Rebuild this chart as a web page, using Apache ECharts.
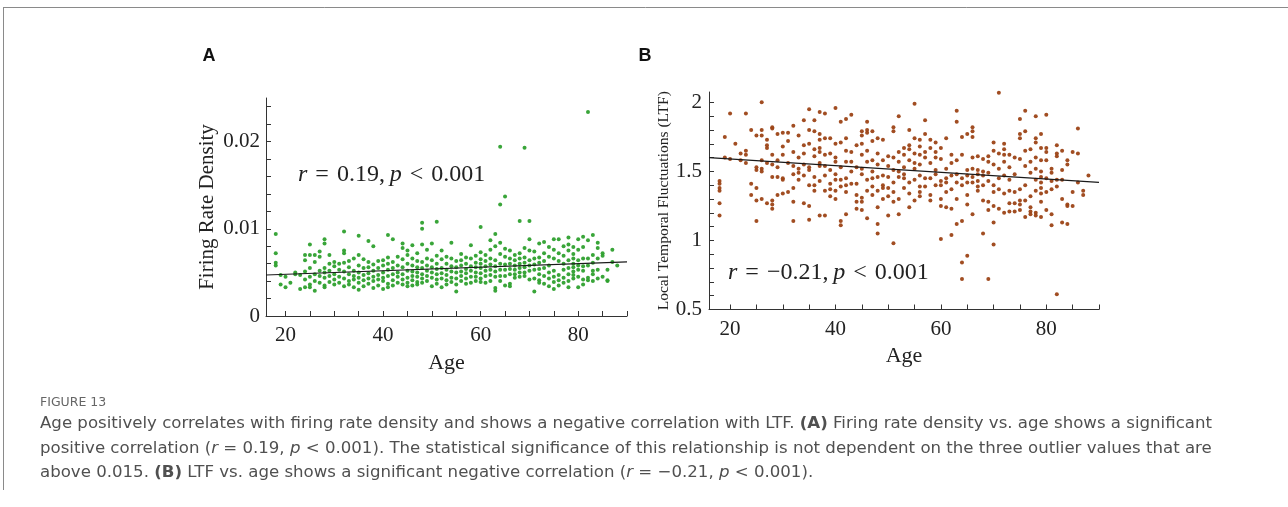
<!DOCTYPE html>
<html><head><meta charset="utf-8">
<script src="https://cdn.jsdelivr.net/npm/echarts@6/dist/echarts.min.js"></script>
<style>html,body{margin:0;padding:0;background:#fff}#c{width:1288px;height:507px}</style>
</head><body><div id="c"></div>
<script>
// ---------- axes ----------
const ageTicks = [20,25,30,35,40,45,50,55,60,65,70,75,80,85,90];
const ageLabels = [20,40,60,80];
const firingTicks = [0,0.002,0.004,0.006,0.008,0.01,0.012,0.014,0.016,0.018,0.02,0.022,0.024];
const firingLabels = [0,0.01,0.02];
const ltfTicks = [0.5,0.6,0.7,0.8,0.9,1,1.1,1.2,1.3,1.4,1.5,1.6,1.7,1.8,1.9,2];
const ltfLabels = [0.5,1,1.5,2];

// ---------- panel A: firing rate density (row = [age, values...]) ----------
const firingRows = [
 [18,0.0094,0.0072,0.0061,0.0058],[19,0.0047,0.0036],[20,0.0045,0.0033],[21,0.0038],
 [22,0.0050,0.0048],[23,0.0047,0.0031],[24,0.0070,0.0064,0.0051,0.0042,0.0033],
 [25,0.0082,0.0070,0.0055,0.0045,0.0036,0.0033],[26,0.0070,0.0062,0.0048,0.0040,0.0029],
 [27,0.0074,0.0068,0.0052,0.0046,0.0038],[28,0.0088,0.0083,0.0055,0.0050,0.0044,0.0035,0.0033],
 [29,0.0070,0.0060,0.0052,0.0046,0.0039],[30,0.0062,0.0057,0.0048,0.0042,0.0036],
 [31,0.0060,0.0053,0.0045,0.0038],[32,0.0097,0.0075,0.0072,0.0061,0.0051,0.0043,0.0034],
 [33,0.0063,0.0056,0.0048,0.0040,0.0036],[34,0.0066,0.0052,0.0046,0.0042,0.0033],
 [35,0.0092,0.0070,0.0058,0.0050,0.0044,0.0038,0.0030],[36,0.0065,0.0055,0.0047,0.0041,0.0034],
 [37,0.0086,0.0062,0.0056,0.0049,0.0043,0.0037],[38,0.0080,0.0059,0.0052,0.0045,0.0040,0.0032],
 [39,0.0063,0.0055,0.0047,0.0042,0.0035],[40,0.0064,0.0058,0.0050,0.0044,0.0040,0.0031],
 [41,0.0093,0.0067,0.0060,0.0053,0.0046,0.0037,0.0033],[42,0.0088,0.0062,0.0055,0.0048,0.0041,0.0035],
 [43,0.0068,0.0058,0.0050,0.0045,0.0038],[44,0.0083,0.0078,0.0065,0.0056,0.0048,0.0042,0.0036],
 [45,0.0075,0.0070,0.0060,0.0052,0.0044,0.0038,0.0034],[46,0.0081,0.0066,0.0058,0.0051,0.0046,0.0041,0.0035],
 [47,0.0072,0.0063,0.0056,0.0050,0.0045,0.0039,0.0036],[48,0.0107,0.0100,0.0082,0.0062,0.0055,0.0048,0.0043,0.0038],
 [49,0.0076,0.0066,0.0058,0.0052,0.0046,0.0040],[50,0.0083,0.0064,0.0056,0.0050,0.0044,0.0034],
 [51,0.0108,0.0069,0.0060,0.0054,0.0048,0.0042,0.0037],[52,0.0075,0.0065,0.0055,0.0049,0.0043,0.0033],
 [53,0.0068,0.0060,0.0053,0.0047,0.0041,0.0036],[54,0.0084,0.0066,0.0057,0.0051,0.0044,0.0039],
 [55,0.0063,0.0056,0.0050,0.0043,0.0036,0.0028],[56,0.0071,0.0064,0.0058,0.0051,0.0046,0.0040],
 [57,0.0067,0.0060,0.0054,0.0049,0.0043,0.0037],[58,0.0081,0.0066,0.0057,0.0052,0.0045,0.0038],
 [59,0.0069,0.0061,0.0056,0.0050,0.0045,0.0040],[60,0.0102,0.0073,0.0065,0.0060,0.0055,0.0049,0.0043,0.0039],
 [61,0.0070,0.0063,0.0057,0.0052,0.0046,0.0038],[62,0.0087,0.0076,0.0066,0.0059,0.0053,0.0047,0.0040],
 [63,0.0094,0.0080,0.0064,0.0057,0.0051,0.0045,0.0032,0.0029],[64,0.0194,0.0128,0.0084,0.0071,0.0060,0.0053,0.0046,0.0040],
 [65,0.0137,0.0077,0.0068,0.0059,0.0053,0.0046,0.0035],[66,0.0075,0.0066,0.0060,0.0054,0.0048,0.0037,0.0034],
 [67,0.0070,0.0064,0.0058,0.0053,0.0048,0.0044],[68,0.0109,0.0072,0.0066,0.0060,0.0055,0.0050,0.0045],
 [69,0.0193,0.0078,0.0067,0.0061,0.0056,0.0050,0.0046],[70,0.0109,0.0088,0.0075,0.0064,0.0058,0.0052,0.0042],
 [71,0.0074,0.0066,0.0059,0.0053,0.0043,0.0028],[72,0.0083,0.0067,0.0061,0.0054,0.0048,0.0041,0.0038],
 [73,0.0085,0.0072,0.0063,0.0055,0.0046,0.0037],[74,0.0079,0.0068,0.0058,0.0050,0.0043,0.0034],
 [75,0.0088,0.0076,0.0066,0.0052,0.0045,0.0039,0.0031],[76,0.0088,0.0072,0.0063,0.0047,0.0041,0.0035],
 [77,0.0080,0.0069,0.0060,0.0053,0.0044,0.0038],[78,0.0090,0.0082,0.0075,0.0064,0.0055,0.0048,0.0040,0.0033],
 [79,0.0079,0.0071,0.0066,0.0060,0.0056,0.0051,0.0047,0.0043],[80,0.0088,0.0076,0.0064,0.0058,0.0053,0.0045,0.0033],
 [81,0.0091,0.0079,0.0066,0.0057,0.0052,0.0042,0.0036],[82,0.0234,0.0087,0.0066,0.0058,0.0044,0.0041],
 [83,0.0093,0.0070,0.0061,0.0052,0.0048,0.0040],[84,0.0084,0.0078,0.0066,0.0053,0.0043],
 [85,0.0072,0.0069,0.0045],[86,0.0053,0.0041,0.0040],[87,0.0076,0.0062],[88,0.0058]
];
const firingTrend = [[16,0.0047],[90,0.0062]];

// ---------- panel B: LTF (row = [age, values...]) ----------
const ltfRows = [
 [18,1.43,1.41,1.38,1.36,1.27,1.18],[19,1.75,1.60],[20,1.92,1.59],[21,1.70],[22,1.63,1.58],
 [23,1.92,1.65,1.62,1.56],[24,1.80,1.41,1.33],[25,1.76,1.53,1.51,1.38,1.29,1.14],
 [26,2.00,1.80,1.76,1.58,1.52,1.50,1.30],[27,1.73,1.69,1.67,1.56,1.27],
 [28,1.82,1.81,1.62,1.55,1.46,1.29,1.26,1.23],[29,1.77,1.58,1.53,1.46,1.33],
 [30,1.78,1.68,1.62,1.45,1.44,1.34],[31,1.78,1.72,1.56,1.35],
 [32,1.83,1.64,1.54,1.48,1.38,1.28,1.14],[33,1.76,1.60,1.52,1.49,1.44],
 [34,1.87,1.69,1.63,1.55,1.47,1.27],[35,1.95,1.80,1.70,1.53,1.51,1.40,1.25,1.15],
 [36,1.87,1.79,1.66,1.61,1.46,1.40,1.36],[37,1.93,1.77,1.73,1.67,1.64,1.56,1.54,1.43,1.18],
 [38,1.92,1.74,1.62,1.54,1.47,1.36,1.18],[39,1.74,1.63,1.51,1.41,1.37,1.32],
 [40,1.96,1.70,1.60,1.57,1.48,1.44,1.36,1.30],[41,1.86,1.71,1.53,1.44,1.39,1.14,1.11],
 [42,1.88,1.74,1.65,1.57,1.45,1.40,1.35,1.19],[43,1.91,1.64,1.57,1.50,1.41],
 [44,1.69,1.53,1.41,1.33,1.28,1.23],[45,1.79,1.76,1.70,1.62,1.52,1.48,1.31,1.28,1.22],
 [46,1.86,1.80,1.78,1.65,1.57,1.44,1.36,1.16],[47,1.79,1.72,1.58,1.50,1.45,1.39,1.33],
 [48,1.74,1.63,1.55,1.46,1.36,1.24,1.12,1.05],[49,1.73,1.58,1.47,1.40,1.38,1.30],
 [50,1.61,1.54,1.46,1.38,1.32,1.18],[51,1.82,1.79,1.60,1.51,1.42,1.35,1.28,0.98],
 [52,1.90,1.64,1.57,1.50,1.46,1.30,1.19],[53,1.67,1.62,1.53,1.48,1.45,1.38],
 [54,1.80,1.69,1.66,1.58,1.42,1.34,1.24],[55,1.99,1.74,1.63,1.56,1.52,1.44,1.29],
 [56,1.73,1.68,1.62,1.55,1.47,1.39,1.35,1.32],[57,1.87,1.77,1.64,1.60,1.45,1.39],
 [58,1.73,1.67,1.56,1.45,1.33,1.29],[59,1.71,1.64,1.60,1.51,1.48,1.40],
 [60,1.67,1.59,1.43,1.40,1.30,1.25,1.01],[61,1.74,1.52,1.45,1.42,1.35,1.24],
 [62,1.62,1.56,1.47,1.37,1.23,1.04],[63,1.94,1.86,1.58,1.48,1.42,1.30,1.12],
 [64,1.75,1.62,1.45,1.40,1.14,0.84,0.72],[65,1.77,1.51,1.47,1.42,1.33,1.26,0.89],
 [66,1.82,1.79,1.75,1.60,1.52,1.46,1.42,1.19],[67,1.61,1.51,1.48,1.43,1.39,1.36],
 [68,1.59,1.50,1.47,1.40,1.29,1.05],[69,1.61,1.57,1.49,1.43,1.28,1.22,0.72],
 [70,1.71,1.65,1.55,1.40,1.35,1.25,1.13,0.97],[71,2.07,1.63,1.52,1.45,1.37,1.23],
 [72,1.70,1.66,1.62,1.57,1.47,1.34,1.20],[73,1.62,1.53,1.44,1.36,1.27,1.21],
 [74,1.60,1.48,1.35,1.27,1.21],[75,1.88,1.77,1.74,1.59,1.37,1.29,1.26,1.22],
 [76,1.94,1.79,1.65,1.54,1.40,1.29,1.17],[77,1.66,1.57,1.49,1.32,1.24,1.21,1.19],
 [78,1.90,1.74,1.71,1.60,1.52,1.44,1.36,1.20,1.18],[79,1.77,1.67,1.58,1.50,1.46,1.42,1.38,1.34,1.28,1.17],
 [80,1.91,1.67,1.64,1.58,1.45,1.35,1.22],[81,1.52,1.49,1.43,1.37,1.19,1.11],
 [82,1.69,1.63,1.61,1.44,1.39,0.61],[83,1.65,1.51,1.44,1.30,1.13],
 [84,1.58,1.55,1.26,1.25,1.12],[85,1.64,1.35,1.25],[86,1.81,1.63,1.42],[87,1.36,1.33],[88,1.47]
];
const ltfTrend = [[16,1.60],[90,1.42]];

function toPoints(rows){ const out=[]; rows.forEach(r=>{ for(let i=1;i<r.length;i++) out.push([r[0],r[i]]); }); return out; }

const SERIF = '"Liberation Serif","DejaVu Serif",serif';
const INK = '#222';
const CAP = '"DejaVu Sans",sans-serif';
const CAPCOL = '#505050';
const SP = '\u2004';

function xAxisCfg(gi){
  return { gridIndex:gi, type:'value', min:16, max:90,
    name:'Age', nameLocation:'middle', nameGap:36,
    nameTextStyle:{fontFamily:SERIF, fontSize:22, color:INK},
    axisLine:{show:true, onZero:false, lineStyle:{color:'#333', width:1}},
    axisTick:{show:true, inside:true, length:5, customValues:ageTicks, lineStyle:{color:'#333'}},
    axisLabel:{customValues:ageLabels, margin:9, fontFamily:SERIF, fontSize:21, color:INK},
    splitLine:{show:false} };
}

const option = {
  backgroundColor:'#fff',
  animation:false,
  grid:[
    {left:266, top:98, width:361, height:218},
    {left:709, top:92, width:390, height:217.5}
  ],
  xAxis:[xAxisCfg(0), xAxisCfg(1)],
  yAxis:[
    { gridIndex:0, type:'value', min:0, max:0.025,
      name:'Firing Rate Density', nameLocation:'middle', nameGap:48,
      nameTextStyle:{fontFamily:SERIF, fontSize:21, color:INK},
      axisLine:{show:true, onZero:false, lineStyle:{color:'#333', width:1}},
      axisTick:{show:true, inside:true, length:5, customValues:firingTicks, lineStyle:{color:'#333'}},
      axisLabel:{customValues:firingLabels, margin:6, fontFamily:SERIF, fontSize:21, color:INK},
      splitLine:{show:false} },
    { gridIndex:1, type:'value', min:0.5, max:2.075,
      name:'Local Temporal Fluctuations (LTF)', nameLocation:'middle', nameGap:37,
      nameTextStyle:{fontFamily:SERIF, fontSize:15.5, color:INK},
      axisLine:{show:true, onZero:false, lineStyle:{color:'#333', width:1}},
      axisTick:{show:true, inside:true, length:5, customValues:ltfTicks, lineStyle:{color:'#333'}},
      axisLabel:{customValues:ltfLabels, margin:7, fontFamily:SERIF, fontSize:21, color:INK},
      splitLine:{show:false} }
  ],
  series:[
    { type:'scatter', xAxisIndex:0, yAxisIndex:0, data:toPoints(firingRows),
      symbolSize:4, itemStyle:{color:'#2ea02e', opacity:0.95} },
    { type:'line', xAxisIndex:0, yAxisIndex:0, data:firingTrend, symbol:'none',
      lineStyle:{color:'#1a1a1a', width:1.2}, z:5 },
    { type:'scatter', xAxisIndex:1, yAxisIndex:1, data:toPoints(ltfRows),
      symbolSize:4, itemStyle:{color:'#9c4316', opacity:0.95} },
    { type:'line', xAxisIndex:1, yAxisIndex:1, data:ltfTrend, symbol:'none',
      lineStyle:{color:'#1a1a1a', width:1.2}, z:5 }
  ],
  graphic:[
    {type:'line', shape:{x1:3,y1:7.5,x2:1288,y2:7.5}, style:{stroke:'#8a8a8a', lineWidth:1}, silent:true},
    {type:'line', shape:{x1:3.5,y1:7,x2:3.5,y2:490}, style:{stroke:'#8a8a8a', lineWidth:1}, silent:true},
    {type:'text', x:209, y:56, style:{text:'A', font:'bold 18px "Liberation Sans",Arial,sans-serif', fill:'#111', align:'center', verticalAlign:'middle'}},
    {type:'text', x:645, y:56, style:{text:'B', font:'bold 18px "Liberation Sans",Arial,sans-serif', fill:'#111', align:'center', verticalAlign:'middle'}},
    {type:'text', x:298, y:175, style:{text:'{i|r}'+SP+'='+SP+'0.19,\u2009{i|p}'+SP+'<'+SP+'0.001', font:'24px '+SERIF, fill:INK, verticalAlign:'middle',
      rich:{i:{fontStyle:'italic', fontFamily:SERIF, fontSize:24, fill:INK}}}},
    {type:'text', x:728, y:273, style:{text:'{i|r}'+SP+'='+SP+'\u22120.21,\u2009{i|p}'+SP+'<'+SP+'0.001', font:'24px '+SERIF, fill:INK, verticalAlign:'middle',
      rich:{i:{fontStyle:'italic', fontFamily:SERIF, fontSize:24, fill:INK}}}},
    {type:'text', x:40, y:403, style:{text:'FIGURE 13', font:'12.5px '+CAP, fill:'#666', verticalAlign:'middle'}},
    {type:'text', x:40, y:424, style:{text:'Age positively correlates with firing rate density and shows a negative correlation with LTF. {b|(A)} Firing rate density vs. age shows a significant',
      font:'16.6px '+CAP, fill:CAPCOL, verticalAlign:'middle',
      rich:{b:{fontWeight:'bold', fontFamily:'DejaVu Sans', fontSize:16.6, fill:CAPCOL}}}},
    {type:'text', x:40, y:449, style:{text:'positive correlation ({i|r} = 0.19, {i|p} < 0.001). The statistical significance of this relationship is not dependent on the three outlier values that are',
      font:'16.6px '+CAP, fill:CAPCOL, verticalAlign:'middle',
      rich:{i:{fontStyle:'italic', fontFamily:'DejaVu Sans', fontSize:16.6, fill:CAPCOL}}}},
    {type:'text', x:40, y:473, style:{text:'above 0.015. {b|(B)} LTF vs. age shows a significant negative correlation ({i|r} = \u22120.21, {i|p} < 0.001).',
      font:'16.6px '+CAP, fill:CAPCOL, verticalAlign:'middle',
      rich:{b:{fontWeight:'bold', fontFamily:'DejaVu Sans', fontSize:16.6, fill:CAPCOL},
            i:{fontStyle:'italic', fontFamily:'DejaVu Sans', fontSize:16.6, fill:CAPCOL}}}}
  ]
};
const chart = echarts.init(document.getElementById('c'), null, {renderer:'canvas'});
chart.setOption(option);
</script></body></html>
